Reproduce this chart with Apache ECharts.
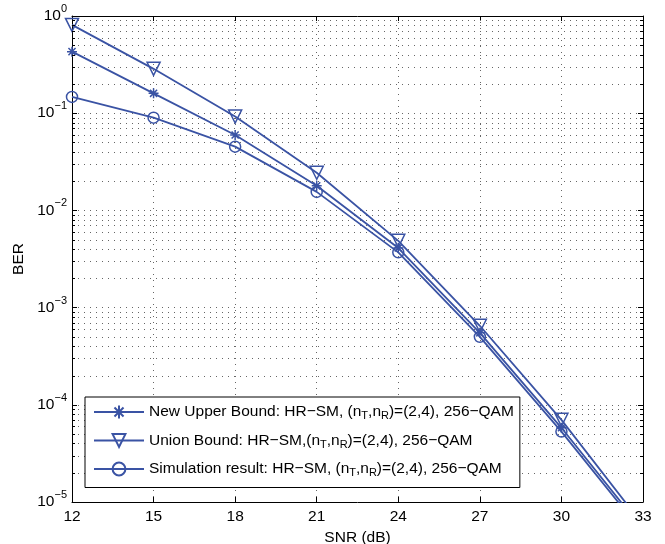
<!DOCTYPE html>
<html><head><meta charset="utf-8">
<script src="https://cdn.jsdelivr.net/npm/echarts@6/dist/echarts.min.js"></script>
<style>html,body{margin:0;padding:0;background:#fff}#c{width:665px;height:544px}</style>
</head><body><div id="c"></div>
<script>
// ---- data ----
const snr = [12, 15, 18, 21, 24, 27, 30, 33];
const upperBound = [0.43, 0.16, 0.0597, 0.0179, 0.0041, 5.5e-4, 5.8e-5, 5.2e-6];
const unionBound = [0.81, 0.286, 0.0925, 0.0244, 0.00486, 6.5e-4, 7.0e-5, 5.8e-6];
const simulation = [0.147, 0.090, 0.0453, 0.0155, 0.0037, 5.0e-4, 5.3e-5, 4.8e-6];
const xTicks = [12, 15, 18, 21, 24, 27, 30, 33];
const yDecades = [1e-5, 1e-4, 1e-3, 1e-2, 1e-1, 1];
const minorMultipliers = [2, 3, 4, 5, 6, 7, 8, 9];
const legendNames = {
  upper: ['New Upper Bound: HR\u2212SM, (n', 'T', ',n', 'R', ')=(2,4), 256\u2212QAM'],
  union: ['Union Bound: HR\u2212SM,(n', 'T', ',n', 'R', ')=(2,4), 256\u2212QAM'],
  sim: ['Simulation result: HR\u2212SM, (n', 'T', ',n', 'R', ')=(2,4), 256\u2212QAM']
};

const FONT = 'Liberation Sans, Arial, sans-serif';
const FS = 15.5;
const BLUE = '#3a53a4';
const AX = '#000';
const GRIDC = '#666';
const STAR = 'path://M5 0L5 10M0 5L10 5M1.46 1.46L8.54 8.54M8.54 1.46L1.46 8.54';

const chart = echarts.init(document.getElementById('c'), null, {renderer: 'canvas'});

function mk(name, values, symbol, size, rotate) {
  return {
    name: name, type: 'line', data: snr.map((x, i) => [x, values[i]]),
    symbol: symbol, symbolSize: size, symbolRotate: rotate || 0,
    itemStyle: {color: 'rgba(255,255,255,0)', borderColor: BLUE, borderWidth: 1.5},
    lineStyle: {color: BLUE, width: 1.8},
    clip: true, z: 5, animation: false, showSymbol: true
  };
}

const richLegend = {
  t: {fontSize: FS, fontFamily: FONT, color: '#000'},
  sub: {fontSize: 11, fontFamily: FONT, color: '#000', padding: [8, 0, 0, 0]}
};

const option = {
  backgroundColor: '#fff',
  animation: false,
  grid: {left: 72, top: 16, right: 22, bottom: 42, containLabel: false, outerBoundsMode: 'none'},
  xAxis: [{
    type: 'value', min: 12, max: 33, interval: 3,
    name: 'SNR (dB)', nameLocation: 'middle', nameGap: 23,
    nameTextStyle: {fontSize: FS, fontFamily: FONT, color: '#000'},
    axisLine: {show: true, lineStyle: {color: AX, width: 1}},
    axisTick: {show: true, inside: true, length: 5, lineStyle: {color: AX}},
    axisLabel: {fontSize: FS, fontFamily: FONT, color: '#000', margin: 7,
      formatter: v => xTicks.indexOf(v) >= 0 ? String(v) : ''},
    splitLine: {show: true, lineStyle: {color: GRIDC, width: 1, type: [1, 5]}}
  }, {
    type: 'value', min: 12, max: 33, interval: 3, position: 'top',
    axisLine: {show: true, lineStyle: {color: AX, width: 1}},
    axisTick: {show: true, inside: true, length: 5, lineStyle: {color: AX}},
    axisLabel: {show: false}, splitLine: {show: false}
  }],
  yAxis: [{
    type: 'log', logBase: 10, min: 1e-5, max: 1, interval: 1,
    name: 'BER', nameLocation: 'middle', nameGap: 43,
    nameTextStyle: {fontSize: FS, fontFamily: FONT, color: '#000'},
    axisLine: {show: true, lineStyle: {color: AX, width: 1}},
    axisTick: {show: true, inside: true, length: 5, lineStyle: {color: AX}},
    axisLabel: {margin: 5, fontFamily: FONT, color: '#000',
      formatter: v => {
        const e = Math.round(Math.log10(v));
        return '{b|10}{s|' + (e === 0 ? '0' : '\u2212' + (-e)) + '}';
      },
      rich: {
        b: {fontSize: FS, fontFamily: FONT, color: '#000'},
        s: {fontSize: 11, fontFamily: FONT, color: '#000', padding: [0, 0, 14, 0]}
      }
    },
    splitLine: {show: true, lineStyle: {color: GRIDC, width: 1, type: [1, 5]}}
  }, {
    type: 'log', logBase: 10, min: 1e-5, max: 1, interval: 1, position: 'right',
    axisLine: {show: true, lineStyle: {color: AX, width: 1}},
    axisTick: {show: true, inside: true, length: 5, lineStyle: {color: AX}},
    axisLabel: {show: false}, splitLine: {show: false}
  }],
  legend: {
    orient: 'vertical', left: 85, top: 397,
    backgroundColor: '#fff', borderColor: '#000', borderWidth: 1, borderRadius: 0,
    padding: [7, 6, 9, 8], itemWidth: 50, itemHeight: 16, itemGap: 11,
    data: ['upper', 'union', 'sim'],
    textStyle: {fontSize: FS, fontFamily: FONT, color: '#000', rich: richLegend},
    formatter: n => {
      const p = legendNames[n];
      return '{t|' + p[0] + '}{sub|' + p[1] + '}{t|' + p[2] + '}{sub|' + p[3] + '}{t|' + p[4] + '}';
    },
    z: 10
  },
  series: [
    mk('upper', upperBound, STAR, 10, 0),
    mk('union', unionBound, 'triangle', 13, 180),
    mk('sim', simulation, 'circle', 11, 0)
  ]
};
chart.setOption(option);

// minor (logarithmic) grid lines and ticks, positioned through the axis scale
const g = [];
const xl = chart.convertToPixel({xAxisIndex: 0, yAxisIndex: 0}, [12, 1])[0];
const xr = chart.convertToPixel({xAxisIndex: 0, yAxisIndex: 0}, [33, 1])[0];
yDecades.slice(0, -1).forEach(d => {
  minorMultipliers.forEach(m => {
    const py = Math.round(chart.convertToPixel({xAxisIndex: 0, yAxisIndex: 0}, [12, m * d])[1]) + 0.5;
    g.push({type: 'line', z: 1, silent: true, shape: {x1: xl, y1: py, x2: xr, y2: py},
      style: {stroke: GRIDC, lineWidth: 1, lineDash: [1, 5]}});
    g.push({type: 'line', z: 6, silent: true, shape: {x1: xl, y1: py, x2: xl + 3, y2: py},
      style: {stroke: AX, lineWidth: 1}});
    g.push({type: 'line', z: 6, silent: true, shape: {x1: xr - 3, y1: py, x2: xr, y2: py},
      style: {stroke: AX, lineWidth: 1}});
  });
});
chart.setOption({graphic: {elements: g}});
</script></body></html>
